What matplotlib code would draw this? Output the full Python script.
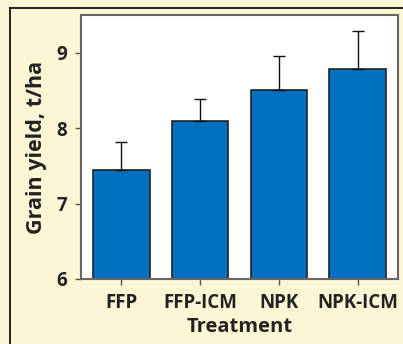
import matplotlib.pyplot as plt
from matplotlib.lines import Line2D

treatments = ['FFP', 'FFP-ICM', 'NPK', 'NPK-ICM']
yield_mean = [7.44, 8.09, 8.51, 8.79]
yield_err = [0.37, 0.30, 0.45, 0.50]

plt.rcParams['font.family'] = ['Open Sans', 'DejaVu Sans']

fig = plt.figure(figsize=(4.03, 3.44), dpi=100)
fig.patch.set_facecolor('#fdf6d4')

# Panel border (top and left edges)
fig.add_artist(Line2D([10 / 403, 1], [1 - 8 / 344, 1 - 8 / 344], color='black', lw=1.2))
fig.add_artist(Line2D([10 / 403, 10 / 403], [0, 1 - 8 / 344], color='black', lw=1.2))

ax = fig.add_axes([81 / 403, 1 - 279 / 344, 317 / 403, 264 / 344])
ax.set_facecolor('white')

x = range(len(treatments))
ax.bar(x, yield_mean, width=0.72, color='#0070c0', edgecolor='#222222', linewidth=1.2)
ax.errorbar(x, yield_mean, yerr=[[0] * 4, yield_err], fmt='none', ecolor='#111111',
            elinewidth=1.0, capsize=4.5, capthick=1.0)

ax.set_ylim(6, 9.5)
ax.set_xlim(-0.51, 3.51)
ax.set_yticks([6, 7, 8, 9])
ax.set_xticks(list(x))
ax.set_xticklabels(treatments)

for s in ax.spines.values():
    s.set_color('#666666')
    s.set_linewidth(1.5)

ax.tick_params(axis='both', colors='#555555', length=4, width=1, labelsize=13.5,
               labelcolor='#222222')
ax.tick_params(axis='y', pad=6)
ax.tick_params(axis='x', pad=6)
for lab in ax.get_xticklabels() + ax.get_yticklabels():
    lab.set_fontweight('bold')

ax.set_xlabel('Treatment', fontsize=14.5, fontweight='bold', color='#222222', labelpad=3)
ax.set_ylabel('Grain yield, t/ha', fontsize=15.5, fontweight='bold', color='#222222', labelpad=7)

fig.savefig('out.png', dpi=100, facecolor=fig.get_facecolor())
